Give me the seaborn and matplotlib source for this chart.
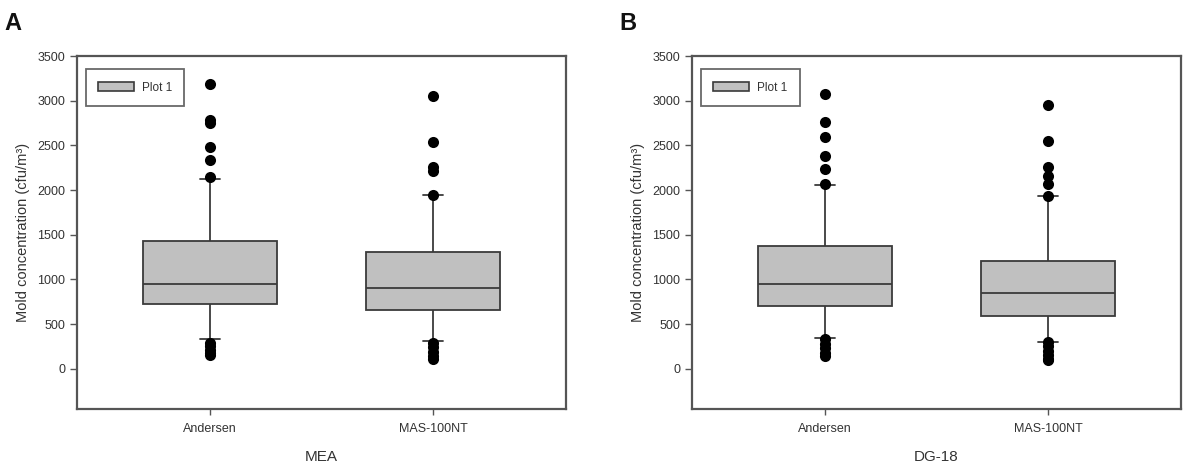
import numpy as np
import pandas as pd
import matplotlib
matplotlib.use('Agg')
import matplotlib.pyplot as plt
import seaborn as sns
from matplotlib.patches import Patch

# sampler categories
samplers = ['Andersen', 'MAS-100NT']
media = ['MEA', 'DG-18']

# box summary: lower whisker, Q1, median, Q3, upper whisker
mea_andersen = [329, 722, 946, 1425, 2124]
mea_mas = [310, 654, 909, 1309, 1945]
dg_andersen = [348, 707, 954, 1372, 2057]
dg_mas = [299, 591, 853, 1208, 1930]

# outlying points
mea_andersen_out = [3182, 2790, 2752, 2487, 2341, 2150, 290, 250, 210, 175, 150]
mea_mas_out = [3048, 2543, 2262, 2218, 1945, 292, 240, 190, 140, 110]
dg_andersen_out = [3070, 2760, 2592, 2379, 2236, 2072, 330, 280, 230, 180, 140]
dg_mas_out = [2947, 2547, 2255, 2162, 2072, 1930, 300, 250, 200, 150, 110, 95]

y_ticks = [0, 500, 1000, 1500, 2000, 2500, 3000, 3500]

edge = '#3a3a3a'
fill = '#c0c0c0'


def make_frame(a, b):
    return pd.DataFrame({
        'sampler': [samplers[0]] * len(a) + [samplers[1]] * len(b),
        'value': a + b,
    })


def draw_panel(ax, box_df, out_df, xlabel, letter):
    sns.boxplot(data=box_df, x='sampler', y='value', order=samplers, ax=ax,
                whis=(0, 100), showfliers=False, width=0.6, color=fill,
                linecolor=edge, linewidth=1.3, capwidths=0.09)
    for p in ax.patches:
        p.set_facecolor(fill)
    sns.stripplot(data=out_df, x='sampler', y='value', order=samplers, ax=ax,
                  jitter=False, color='black', size=8, linewidth=0, zorder=5)
    ax.set_xlim(-0.596, 1.596)
    ax.set_ylim(-450, 3500)
    ax.set_yticks(y_ticks)
    ax.set_ylabel('Mold concentration (cfu/m³)', fontsize=10.5, color='#333333', labelpad=5)
    ax.set_xlabel(xlabel, fontsize=11, color='#333333', labelpad=11)
    ax.tick_params(axis='both', labelsize=9, colors='#555555', labelcolor='#333333',
                   direction='out', length=5, width=1, left=True, bottom=True)
    ax.tick_params(axis='x', length=4, pad=6)
    for s in ax.spines.values():
        s.set_visible(True)
        s.set_color('#555555')
        s.set_linewidth(1.6)
    leg = ax.legend(handles=[Patch(facecolor=fill, edgecolor=edge, linewidth=1.2, label='Plot 1')],
                    loc='upper left', bbox_to_anchor=(0.018, 0.963), frameon=True, fancybox=False,
                    fontsize=8.5, handlelength=3.0, handleheight=0.9, borderpad=1.05,
                    borderaxespad=0, handletextpad=0.7)
    leg.get_frame().set_edgecolor('#444444')
    leg.get_frame().set_linewidth(1.3)
    for t in leg.get_texts():
        t.set_color('#333333')
    ax.figure.text(ax.get_position().x0 - 0.061, 0.95, letter, fontsize=17,
                   fontweight='bold', color='#111111', ha='left', va='center')


def main():
    sns.set_style('white')
    plt.rcParams['font.family'] = ['Liberation Sans', 'DejaVu Sans']

    fig = plt.figure(figsize=(11.84, 4.65), dpi=100)
    ax_a = fig.add_axes([0.065, 0.1204, 0.413, 0.759])
    ax_b = fig.add_axes([0.5845, 0.1204, 0.413, 0.759])

    draw_panel(ax_a, make_frame(mea_andersen, mea_mas),
               make_frame(mea_andersen_out, mea_mas_out), media[0], 'A')
    draw_panel(ax_b, make_frame(dg_andersen, dg_mas),
               make_frame(dg_andersen_out, dg_mas_out), media[1], 'B')

    fig.savefig('out.png', dpi=100)


if __name__ == "__main__":
    main()
